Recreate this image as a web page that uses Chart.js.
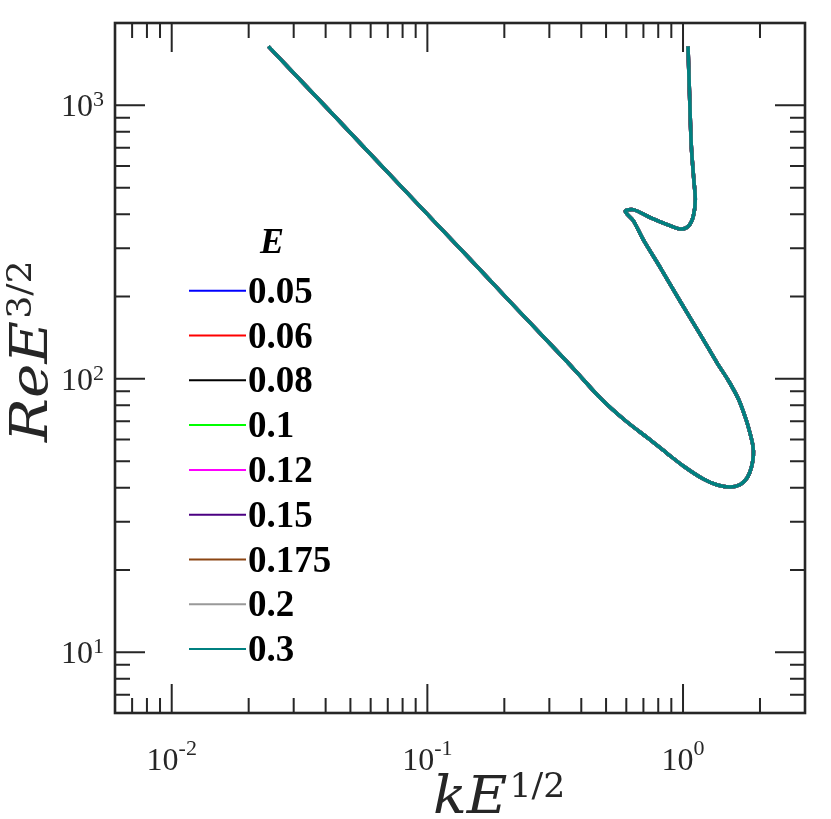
<!DOCTYPE html>
<html>
<head>
<meta charset="utf-8">
<script src="https://cdn.jsdelivr.net/npm/chart.js@4"></script>
<style>
  body { margin: 0; background: #fff; }
  canvas { display: block; }
</style>
</head>
<body>
<canvas id="mainChart" width="831" height="819"></canvas>
<script>
// curve (all E values collapse onto one curve)
const kE = [0.02388, 0.0417, 0.0782, 0.1471, 0.2109, 0.3024, 0.3789, 0.4747, 0.5943, 0.7447,
  0.8682, 1.0027, 1.2008, 1.3623, 1.5312, 1.6759, 1.7853, 1.8508, 1.8844, 1.8759,
  1.8260, 1.7693, 1.6507, 1.5044, 1.3586, 1.1687, 0.976, 0.8149, 0.699, 0.6389,
  0.5943, 0.6389, 0.7447, 0.868, 0.976, 1.049, 1.097, 1.117, 1.102, 1.078,
  1.061, 1.046];
const ReE = [1643, 949.1, 509.6, 273.6, 191.2, 134.1, 107.2, 85.1, 70.4, 59.8,
  53.3, 48.0, 43.0, 40.9, 40.2, 41.1, 43.6, 47.4, 52.4, 57.0,
  63.6, 70.4, 84.0, 98.6, 114.4, 145.2, 191.7, 255.2, 322.9, 378.9,
  409.8, 415.6, 388.6, 366.4, 352.8, 361.3, 392.9, 452.1, 535.0, 706.3,
  1079, 1643];

const Evalues = ["0.05", "0.06", "0.08", "0.1", "0.12", "0.15", "0.175", "0.2", "0.3"];
const colors = ["#0000ff", "#ff0000", "#000000", "#00ff00", "#ff00ff", "#4b0082", "#8b4513", "#999999", "#008080"];

const xMajor = [0.01, 0.1, 1];
const xExp = ["-2", "-1", "0"];
const yMajor = [10, 100, 1000];
const yExp = ["1", "2", "3"];

const axisColor = "#262626";

function minorTicks(min, max) {
  const out = [];
  for (let e = -4; e <= 4; e++) {
    for (let m = 2; m <= 9; m++) {
      const v = m * Math.pow(10, e);
      if (v > min * 1.0001 && v < max * 0.9999) out.push(v);
    }
  }
  return out;
}

const framePlugin = {
  id: "frame",
  afterDraw(chart) {
    const ctx = chart.ctx;
    const a = chart.chartArea;
    const xs = chart.scales.x, ys = chart.scales.y;
    ctx.save();
    ctx.strokeStyle = axisColor;
    ctx.lineWidth = 2;
    // ticks, inside, on all four sides
    const tick = (v, len, horiz) => {
      ctx.beginPath();
      if (horiz) {
        const p = xs.getPixelForValue(v);
        ctx.moveTo(p, a.bottom); ctx.lineTo(p, a.bottom - len);
        ctx.moveTo(p, a.top); ctx.lineTo(p, a.top + len);
      } else {
        const p = ys.getPixelForValue(v);
        ctx.moveTo(a.left, p); ctx.lineTo(a.left + len, p);
        ctx.moveTo(a.right, p); ctx.lineTo(a.right - len, p);
      }
      ctx.stroke();
    };
    minorTicks(xs.min, xs.max).forEach(v => tick(v, 15, true));
    xMajor.forEach(v => tick(v, 29, true));
    minorTicks(ys.min, ys.max).forEach(v => tick(v, 15, false));
    yMajor.forEach(v => tick(v, 30, false));
    ctx.lineWidth = 2.6;
    ctx.strokeRect(a.left, a.top, a.right - a.left, a.bottom - a.top);

    // tick labels
    ctx.fillStyle = axisColor;
    ctx.textBaseline = "alphabetic";
    xMajor.forEach((v, i) => {
      const p = xs.getPixelForValue(v);
      ctx.font = "32px 'Liberation Serif'";
      const wb = ctx.measureText("10").width;
      ctx.font = "22px 'Liberation Serif'";
      const we = ctx.measureText(xExp[i]).width;
      const x0 = p - (wb + we) / 2;
      ctx.font = "32px 'Liberation Serif'";
      ctx.textAlign = "left";
      ctx.fillText("10", x0, 770);
      ctx.font = "22px 'Liberation Serif'";
      ctx.fillText(xExp[i], x0 + wb, 755);
    });
    yMajor.forEach((v, i) => {
      const p = ys.getPixelForValue(v);
      ctx.font = "22px 'Liberation Serif'";
      const we = ctx.measureText(yExp[i]).width;
      ctx.textAlign = "right";
      ctx.fillText(yExp[i], 104, p + 1);
      ctx.font = "32px 'Liberation Serif'";
      ctx.fillText("10", 104 - we, p + 11);
    });

    // axis titles
    ctx.textAlign = "left";
    ctx.save();
    ctx.translate(433, 813);
    ctx.scale(1.05, 1);
    ctx.font = "italic 53px 'DejaVu Serif'";
    ctx.fillText("kE", 0, 0);
    const wk = ctx.measureText("kE").width;
    ctx.font = "33px 'DejaVu Serif'";
    ctx.fillText("1/2", wk + 2, -16);
    ctx.restore();

    ctx.save();
    ctx.translate(47, 442);
    ctx.rotate(-Math.PI / 2);
    ctx.scale(1.1, 1);
    ctx.font = "italic 53px 'DejaVu Serif'";
    ctx.fillText("ReE", 0, 0);
    const wr = ctx.measureText("ReE").width;
    ctx.font = "33px 'DejaVu Serif'";
    ctx.fillText("3/2", wr + 2, -16);
    ctx.restore();

    // legend
    ctx.fillStyle = "#000";
    ctx.textAlign = "center";
    ctx.font = "bold italic 36px 'Liberation Serif'";
    ctx.fillText("E", 272, 253);
    ctx.textAlign = "left";
    ctx.font = "bold 37px 'Liberation Serif'";
    chart.data.datasets.forEach((ds, i) => {
      const y = 290.7 + i * 44.8;
      ctx.strokeStyle = ds.borderColor;
      ctx.lineWidth = 2;
      ctx.beginPath();
      ctx.moveTo(189, y); ctx.lineTo(246, y);
      ctx.stroke();
      ctx.fillText(ds.label, 248, y + 12);
    });
    ctx.restore();
  }
};

const datasets = Evalues.map((E, i) => ({
  label: E,
  data: kE.map((k, j) => ({ x: k, y: ReE[j] })),
  borderColor: colors[i],
  backgroundColor: colors[i],
  borderWidth: 3.5,
  pointRadius: 0,
  showLine: true,
  tension: 0.3,
  fill: false,
  order: Evalues.length - i   // last series (0.3) ends up on top
}));

new Chart(document.getElementById("mainChart"), {
  type: "scatter",
  data: { datasets },
  options: {
    responsive: false,
    animation: false,
    devicePixelRatio: 1,
    layout: { padding: { left: 115, top: 23, right: 26, bottom: 106 } },
    scales: {
      x: { type: "logarithmic", min: 0.006, max: 3, display: false },
      y: { type: "logarithmic", min: 6, max: 2000, display: false }
    },
    plugins: { legend: { display: false }, tooltip: { enabled: false } }
  },
  plugins: [framePlugin]
});
</script>
</body>
</html>
